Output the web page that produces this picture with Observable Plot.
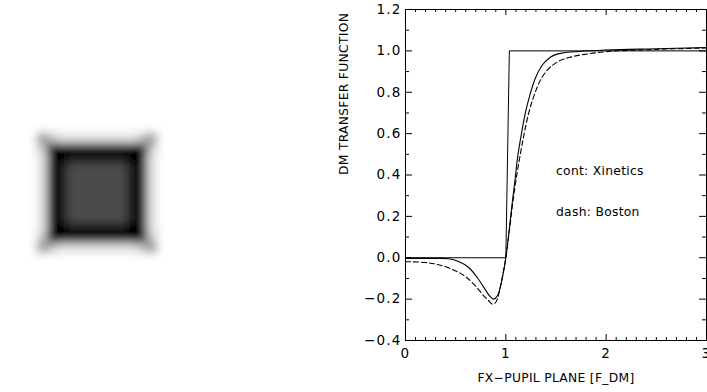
<!DOCTYPE html>
<html><head><meta charset="utf-8">
<script src="https://cdn.jsdelivr.net/npm/d3@7"></script>
<script src="https://cdn.jsdelivr.net/npm/@observablehq/plot@0.6"></script>
<style>
html,body{margin:0;padding:0;background:#fff;}
#wrap{display:flex;width:707px;height:392px;overflow:hidden;}
#wrap svg{display:block;flex:none;}
</style></head><body><div id="wrap"></div>
<script>
// Left panel: coarse grey levels (0 = black, 3 = mid grey, 9 = white), rows top to bottom
const imageRows = [
  "9999999999999999",
  "9999999999999999",
  "9957888888887599",
  "9970000000000799",
  "9980011111100899",
  "9980133333310899",
  "9980133333310899",
  "9980133333310899",
  "9980133333310899",
  "9980133333310899",
  "9980133333310899",
  "9980011111100899",
  "9970000000000799",
  "9957888888887599",
  "9999999999999999",
  "9999999999999999"
];
const imageLevels = imageRows.flatMap(r => Array.from(r, Number));

// Right panel series
const stepX = [0, 1.0, 1.035, 3.0];
const stepY = [0, 0, 1.0, 1.0];
const xineticsX = [0, 0.2, 0.35, 0.43, 0.53, 0.63, 0.71, 0.78, 0.845, 0.877, 0.905, 0.935, 0.96, 0.98, 1.0, 1.03, 1.06, 1.09, 1.115, 1.149, 1.192, 1.242, 1.291, 1.358, 1.44, 1.557, 1.738, 2.0, 2.5, 3.0];
const xineticsY = [-0.003, -0.003, -0.003, -0.005, -0.018, -0.047, -0.092, -0.143, -0.188, -0.2, -0.192, -0.16, -0.11, -0.06, 0.0, 0.12, 0.25, 0.37, 0.477, 0.581, 0.694, 0.791, 0.864, 0.928, 0.968, 0.989, 0.997, 1.004, 1.01, 1.016];
const bostonX = [0, 0.2, 0.33, 0.46, 0.6, 0.695, 0.78, 0.83, 0.87, 0.9, 0.93, 0.96, 0.98, 1.0, 1.03, 1.06, 1.09, 1.136, 1.175, 1.225, 1.275, 1.341, 1.424, 1.523, 1.656, 1.838, 2.0, 2.5, 3.0];
const bostonY = [-0.019, -0.023, -0.034, -0.055, -0.092, -0.135, -0.184, -0.208, -0.224, -0.215, -0.175, -0.105, -0.055, 0.0, 0.11, 0.23, 0.34, 0.477, 0.581, 0.694, 0.775, 0.855, 0.912, 0.949, 0.971, 0.987, 0.996, 1.007, 1.014];
const xTickLabels = [0, 1, 2, 3];
const yTickLabels = [-0.4, -0.2, 0.0, 0.2, 0.4, 0.6, 0.8, 1.0, 1.2];
const legendLabels = ["cont: Xinetics", "dash: Boston"];
const xTitle = "FX\u2212PUPIL PLANE [F_DM]";
const yTitle = "DM TRANSFER FUNCTION";

const toPts = (xs, ys) => xs.map((x, i) => ({x, y: ys[i]}));
const font = "'DejaVu Sans', 'Liberation Sans', sans-serif";

// ---- left image panel
const left = Plot.plot({
  width: 330, height: 392, margin: 0,
  style: {background: "#fff"},
  x: {domain: [0, 33], axis: null},
  y: {domain: [0, 39.2], reverse: true, axis: null},
  color: {type: "linear", domain: [0, 3, 9], range: ["#000", "#4b4b4b", "#fff"]},
  marks: [
    Plot.raster(imageLevels, {width: 16, height: 16, x1: 1.6, x2: 17.6, y1: 11.2, y2: 27.2, fill: d => d, imageRendering: "pixelated"})
  ]
});
{
  const s = d3.select(left);
  s.insert("defs", ":first-child").append("filter").attr("id", "soft")
    .attr("x", "-30%").attr("y", "-30%").attr("width", "160%").attr("height", "160%")
    .append("feGaussianBlur").attr("stdDeviation", 4.6);
  s.selectAll("image").attr("filter", "url(#soft)");
}

// ---- right line plot
const W = 377, H = 392, mL = 75, mR = 1, mT = 9, mB = 52;
const innerW = W - mL - mR, innerH = H - mT - mB;
const xMinor = d3.range(0, 31).filter(i => i % 10 !== 0).map(i => i / 10);
const yMinor = d3.range(-4, 13).filter(i => i % 2 !== 0).map(i => i / 10);

const right = Plot.plot({
  width: W, height: H, marginLeft: mL, marginRight: mR, marginTop: mT, marginBottom: mB,
  style: {fontFamily: font, fontSize: "13px", color: "#000", background: "#fff"},
  x: {domain: [0, 3]},
  y: {domain: [-0.4, 1.2]},
  marks: [
    // inward ticks on all four sides
    Plot.tickX(xTickLabels, {x: d => d, insetTop: innerH - 6, stroke: "#000"}),
    Plot.tickX(xTickLabels, {x: d => d, insetBottom: innerH - 6, stroke: "#000"}),
    Plot.tickX(xMinor, {x: d => d, insetTop: innerH - 3, stroke: "#000"}),
    Plot.tickX(xMinor, {x: d => d, insetBottom: innerH - 3, stroke: "#000"}),
    Plot.tickY(yTickLabels, {y: d => d, insetRight: innerW - 7, stroke: "#000"}),
    Plot.tickY(yTickLabels, {y: d => d, insetLeft: innerW - 7, stroke: "#000"}),
    Plot.tickY(yMinor, {y: d => d, insetRight: innerW - 4, stroke: "#000"}),
    Plot.tickY(yMinor, {y: d => d, insetLeft: innerW - 4, stroke: "#000"}),
    Plot.frame({stroke: "#000", strokeWidth: 1}),
    Plot.line(toPts(stepX, stepY), {x: "x", y: "y", stroke: "#000", strokeWidth: 1}),
    Plot.line(toPts(xineticsX, xineticsY), {x: "x", y: "y", stroke: "#000", strokeWidth: 1.1, curve: "monotone-x"}),
    Plot.line(toPts(bostonX, bostonY), {x: "x", y: "y", stroke: "#000", strokeWidth: 1.1, strokeDasharray: "5,3", curve: "monotone-x"}),
    Plot.text([legendLabels[0]], {x: 1.5, y: 0.42, text: d => d, textAnchor: "start", fontSize: 12.3, fill: "#000"}),
    Plot.text([legendLabels[1]], {x: 1.5, y: 0.222, text: d => d, textAnchor: "start", fontSize: 12.3, fill: "#000"}),
    Plot.axisX(xTickLabels, {tickSize: 0, tickPadding: 8, tickFormat: d => String(d), label: null, fontSize: 13.5}),
    Plot.axisY(yTickLabels, {tickSize: 0, tickPadding: 4, tickFormat: d3.format(".1f"), label: null, fontSize: 13.5}),
    Plot.text([yTitle], {frameAnchor: "left", dx: -61, rotate: -90, text: d => d, fontSize: 12.3, fill: "#000"}),
    Plot.text([xTitle], {frameAnchor: "bottom", dy: 41, text: d => d, fontSize: 12.3, fill: "#000"})
  ]
});
d3.select(right).selectAll("g[aria-label='x-axis tick label'] text, g[aria-label='y-axis tick label'] text")
  .style("letter-spacing", "1.2px");
d3.select(right).selectAll("g[aria-label='text'] text").style("letter-spacing", "0.3px");

const wrap = document.getElementById("wrap");
wrap.appendChild(left);
wrap.appendChild(right);
</script></body></html>
